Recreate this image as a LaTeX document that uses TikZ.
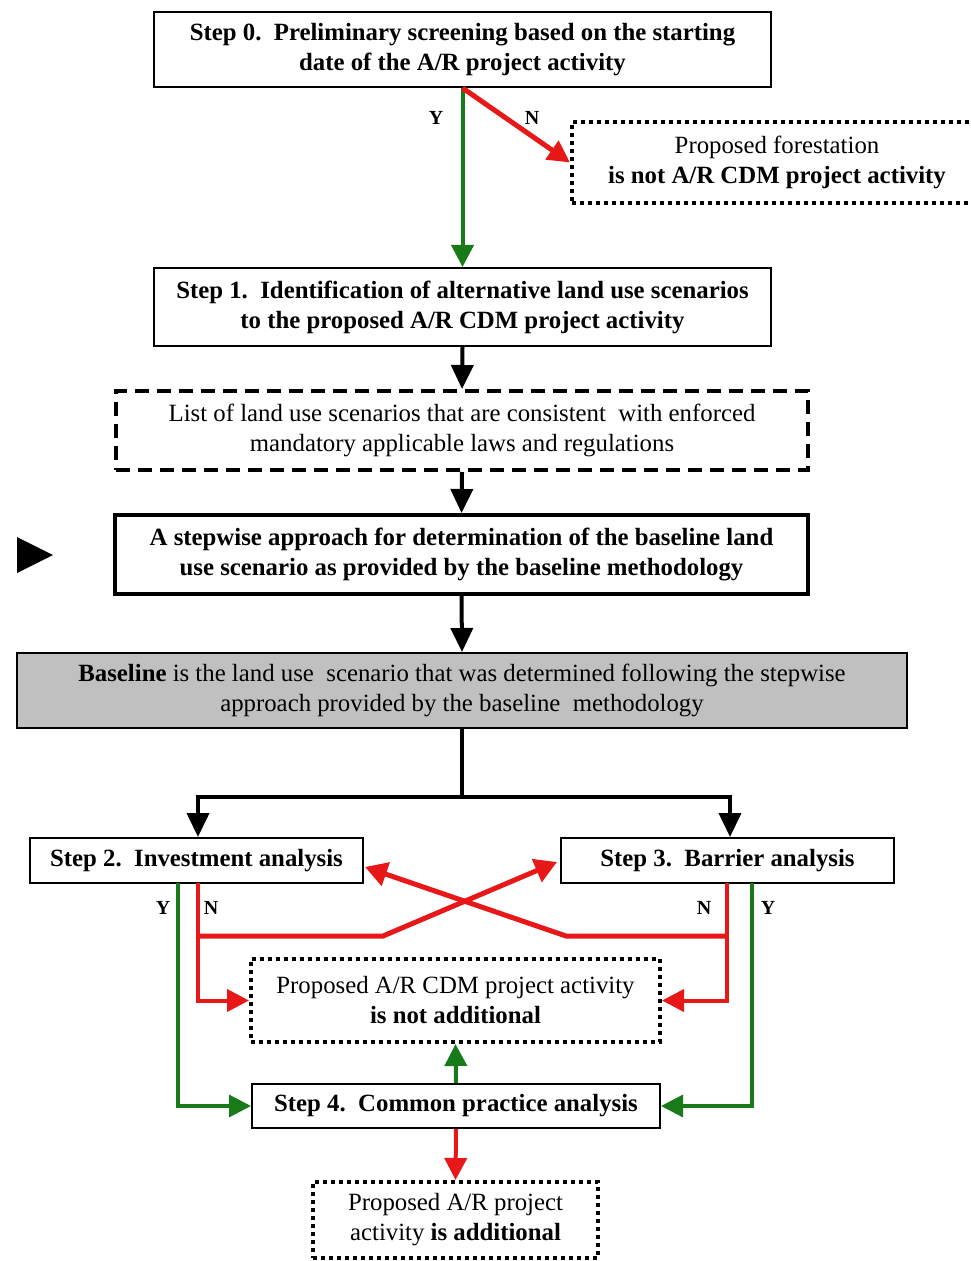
\documentclass[tikz,border=0pt]{standalone}
\usepackage{fontspec}
\setmainfont{Liberation Serif}
\usetikzlibrary{arrows.meta}
\definecolor{ared}{RGB}{232,24,24}
\definecolor{agreen}{RGB}{24,122,24}
\definecolor{agray}{RGB}{192,192,192}
\begin{document}
\begin{tikzpicture}[x=0.5pt,y=-0.5pt,
  txt/.style={font=\fontsize{12.4}{15}\selectfont},
  box/.style={draw, line width=1pt, align=center, inner sep=0pt, txt},
  thickbox/.style={box, line width=2pt},
  dotbox/.style={box, line width=2pt, dash pattern=on 2pt off 2pt},
  dashbox/.style={box, line width=2pt, dash pattern=on 7pt off 4pt},
  grey/.style={box, fill=agray},
  yn/.style={font=\fontsize{10}{11}\selectfont\bfseries, inner sep=0pt},
  blk/.style={line width=2pt, -{Triangle[length=12pt,width=11pt]}},
  grn/.style={agreen, line width=1.6pt, -{Triangle[length=11pt,width=11pt]}},
  grnup/.style={agreen, line width=2pt, -{Triangle[length=11pt,width=11pt]}},
  rd/.style={ared, line width=2pt, -{Triangle[length=11pt,width=11pt]}},
  rdx/.style={ared, line width=2.5pt, -{Triangle[length=11pt,width=12pt]}},
]
\useasboundingbox (0,0) rectangle (970,1261);
\clip (0,0) rectangle (970,1261);

% nodes
\node[box, minimum width=308.5pt, minimum height=37.5pt] (s0) at (462.5,49.5)
  {\bfseries Step 0.\ \ Preliminary screening based on the starting\\\bfseries date of the A/R project activity};
\node[dotbox, minimum width=205pt, minimum height=40.5pt] (forest) at (777,162.5)
  {Proposed forestation\\\bfseries is not A/R CDM project activity};
\node[box, minimum width=308.5pt, minimum height=39pt] (s1) at (462.5,307)
  {\bfseries Step 1.\ \ Identification of alternative land use scenarios\\\bfseries to the proposed A/R CDM project activity};
\node[dashbox, minimum width=346pt, minimum height=39.5pt] (list) at (462,430.5)
  {List of land use scenarios that are consistent\ \ with enforced\\mandatory applicable laws and regulations};
\node[thickbox, minimum width=346.5pt, minimum height=39.5pt] (stepwise) at (461.5,554.5)
  {\bfseries A stepwise approach for determination of the baseline land\\\bfseries use scenario as provided by the baseline methodology};
\node[grey, minimum width=445pt, minimum height=37.5pt] (baseline) at (462,690.5)
  {\textbf{Baseline} is the land use\ \ scenario that was determined following the stepwise\\approach provided by the baseline\ \ methodology};
\node[box, minimum width=166.5pt, minimum height=22.5pt] (s2) at (196.5,860.5)
  {\bfseries Step 2.\ \ Investment analysis};
\node[box, minimum width=166.5pt, minimum height=22.5pt] (s3) at (727.5,860.5)
  {\bfseries Step 3.\ \ Barrier analysis};
\node[dotbox, minimum width=204.5pt, minimum height=41.5pt] (notadd) at (455.5,1000.5)
  {Proposed A/R CDM project activity\\\bfseries is not additional};
\node[box, minimum width=204pt, minimum height=22pt] (s4) at (456,1106)
  {\bfseries Step 4.\ \ Common practice analysis};
\node[dotbox, minimum width=142.5pt, minimum height=38pt] (add) at (455.5,1220)
  {Proposed A/R project\\activity \textbf{is additional}};

% left pointer triangle
\fill (17,537) -- (53,555) -- (17,573) -- cycle;

% labels
\node[yn] (y0) at (436,118) {Y};
\node[yn] (n0) at (532,118) {N};
\node[yn] (y2) at (163,908) {Y};
\node[yn] (n2) at (211,908) {N};
\node[yn] (n3) at (704,908) {N};
\node[yn] (y3) at (768,908) {Y};

% coordinates
\coordinate (j) at (462,797);
\coordinate (l2) at (198,797);
\coordinate (l3) at (730,797);
\coordinate (n2top) at (198,883);
\coordinate (n3top) at (727,883);
\coordinate (h2) at (198,936);
\coordinate (k2) at (383,936);
\coordinate (h3) at (727,936);
\coordinate (k3) at (566,936);
\coordinate (g2) at (178,883);
\coordinate (g3) at (752,883);
\coordinate (t3) at (557,862);
\coordinate (t2) at (365,867);

% connectors
\draw[grn, line width=2pt] (s0.south) -- (s1.north);
\draw[rd, line width=2.5pt] (s0.south) -- (forest.west);
\draw[blk] (s1.south) -- (list.north);
\draw[blk] (list.south) -- (stepwise.north);
\draw[blk] (stepwise.south) -- (baseline.north);
\draw[line width=2pt] (baseline.south) -- (j);
\draw[blk] (j) -- (l2) -- (l2 |- s2.north);
\draw[blk] (j) -- (l3) -- (l3 |- s3.north);

\draw[rd] (n2top) |- (notadd.west);
\draw[rd] (n3top) |- (notadd.east);
\draw[rdx] (h2) -- (k2) -- (t3);
\draw[rdx] (h3) -- (k3) -- (t2);

\draw[grn] (g2) |- (s4.west);
\draw[grn] (g3) |- (s4.east);
\draw[grnup] (s4.north) -- (notadd.south);
\draw[rd] (s4.south) -- (add.north);
\end{tikzpicture}
\end{document}
